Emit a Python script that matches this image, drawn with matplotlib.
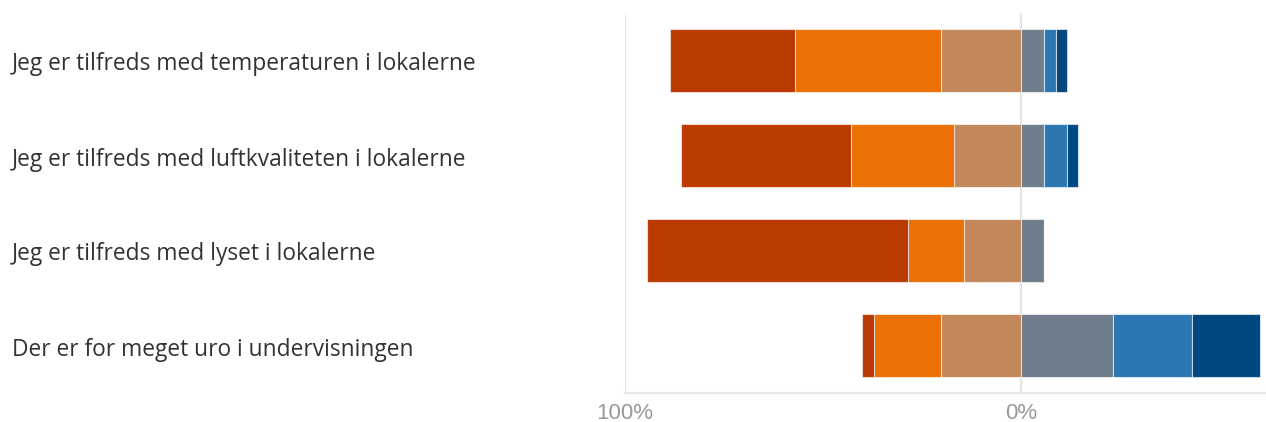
import matplotlib
matplotlib.use("Agg")
import matplotlib.pyplot as plt
import numpy as np

categories = [
    "Jeg er tilfreds med temperaturen i lokalerne",
    "Jeg er tilfreds med luftkvaliteten i lokalerne",
    "Jeg er tilfreds med lyset i lokalerne",
    "Der er for meget uro i undervisningen",
]
# negative side (from outermost to centre)
strongly_neg = [31.4, 42.9, 65.8, 2.8]
neg = [37.0, 25.9, 14.1, 17.1]
slightly_neg = [20.2, 17.1, 14.6, 20.2]
# positive side (from centre outwards)
slightly_pos = [5.8, 5.8, 5.6, 23.1]
pos = [2.8, 5.6, 0.0, 19.9]
strongly_pos = [2.9, 2.9, 0.0, 17.2]

tick_values = [-100, 0]
tick_labels = ["100%", "0%"]

colors = ["#BA3A00", "#EB7006", "#C4875B", "#6F7D8C", "#2C77B1", "#00477F"]

fig = plt.figure(figsize=(12.66, 4.22), dpi=100)
ax = fig.add_axes([625 / 1266, 29 / 422, 1 - 625 / 1266, 380 / 422])

y = np.arange(len(categories))
h = 0.667
kw = dict(height=h, edgecolor=(1, 1, 1, 0.6), linewidth=0.8, zorder=3)

sn = np.array(slightly_neg)
n = np.array(neg)
stn = np.array(strongly_neg)
ax.barh(y, -sn, left=0, color=colors[2], **kw)
ax.barh(y, -n, left=-sn, color=colors[1], **kw)
ax.barh(y, -stn, left=-sn - n, color=colors[0], **kw)

sp = np.array(slightly_pos)
p = np.array(pos)
stp = np.array(strongly_pos)
ax.barh(y, sp, left=0, color=colors[3], **kw)
ax.barh(y, p, left=sp, color=colors[4], **kw)
ax.barh(y, stp, left=sp + p, color=colors[5], **kw)

ax.set_xlim(-100, 61.7)
ax.set_ylim(3.5, -0.5)

for v in tick_values:
    ax.axvline(v, color="#e6e6e6", linewidth=1.5, zorder=1)

for s in ["top", "right", "left"]:
    ax.spines[s].set_visible(False)
ax.spines["bottom"].set_color("#e6e6e6")
ax.spines["bottom"].set_linewidth(1.5)

ax.set_xticks(tick_values)
ax.set_xticklabels(tick_labels, fontsize=16, color="#999999", family="Liberation Sans")
ax.tick_params(axis="x", length=0, pad=7)
ax.set_yticks([])

for i, c in enumerate(categories):
    yc = 60.5 + 95 * i + 4
    fig.text(12 / 1266, 1 - yc / 422, c,
             fontsize=16.4, color="#333333", family="Open Sans",
             va="center", ha="left")

fig.savefig("out.png", dpi=100)
